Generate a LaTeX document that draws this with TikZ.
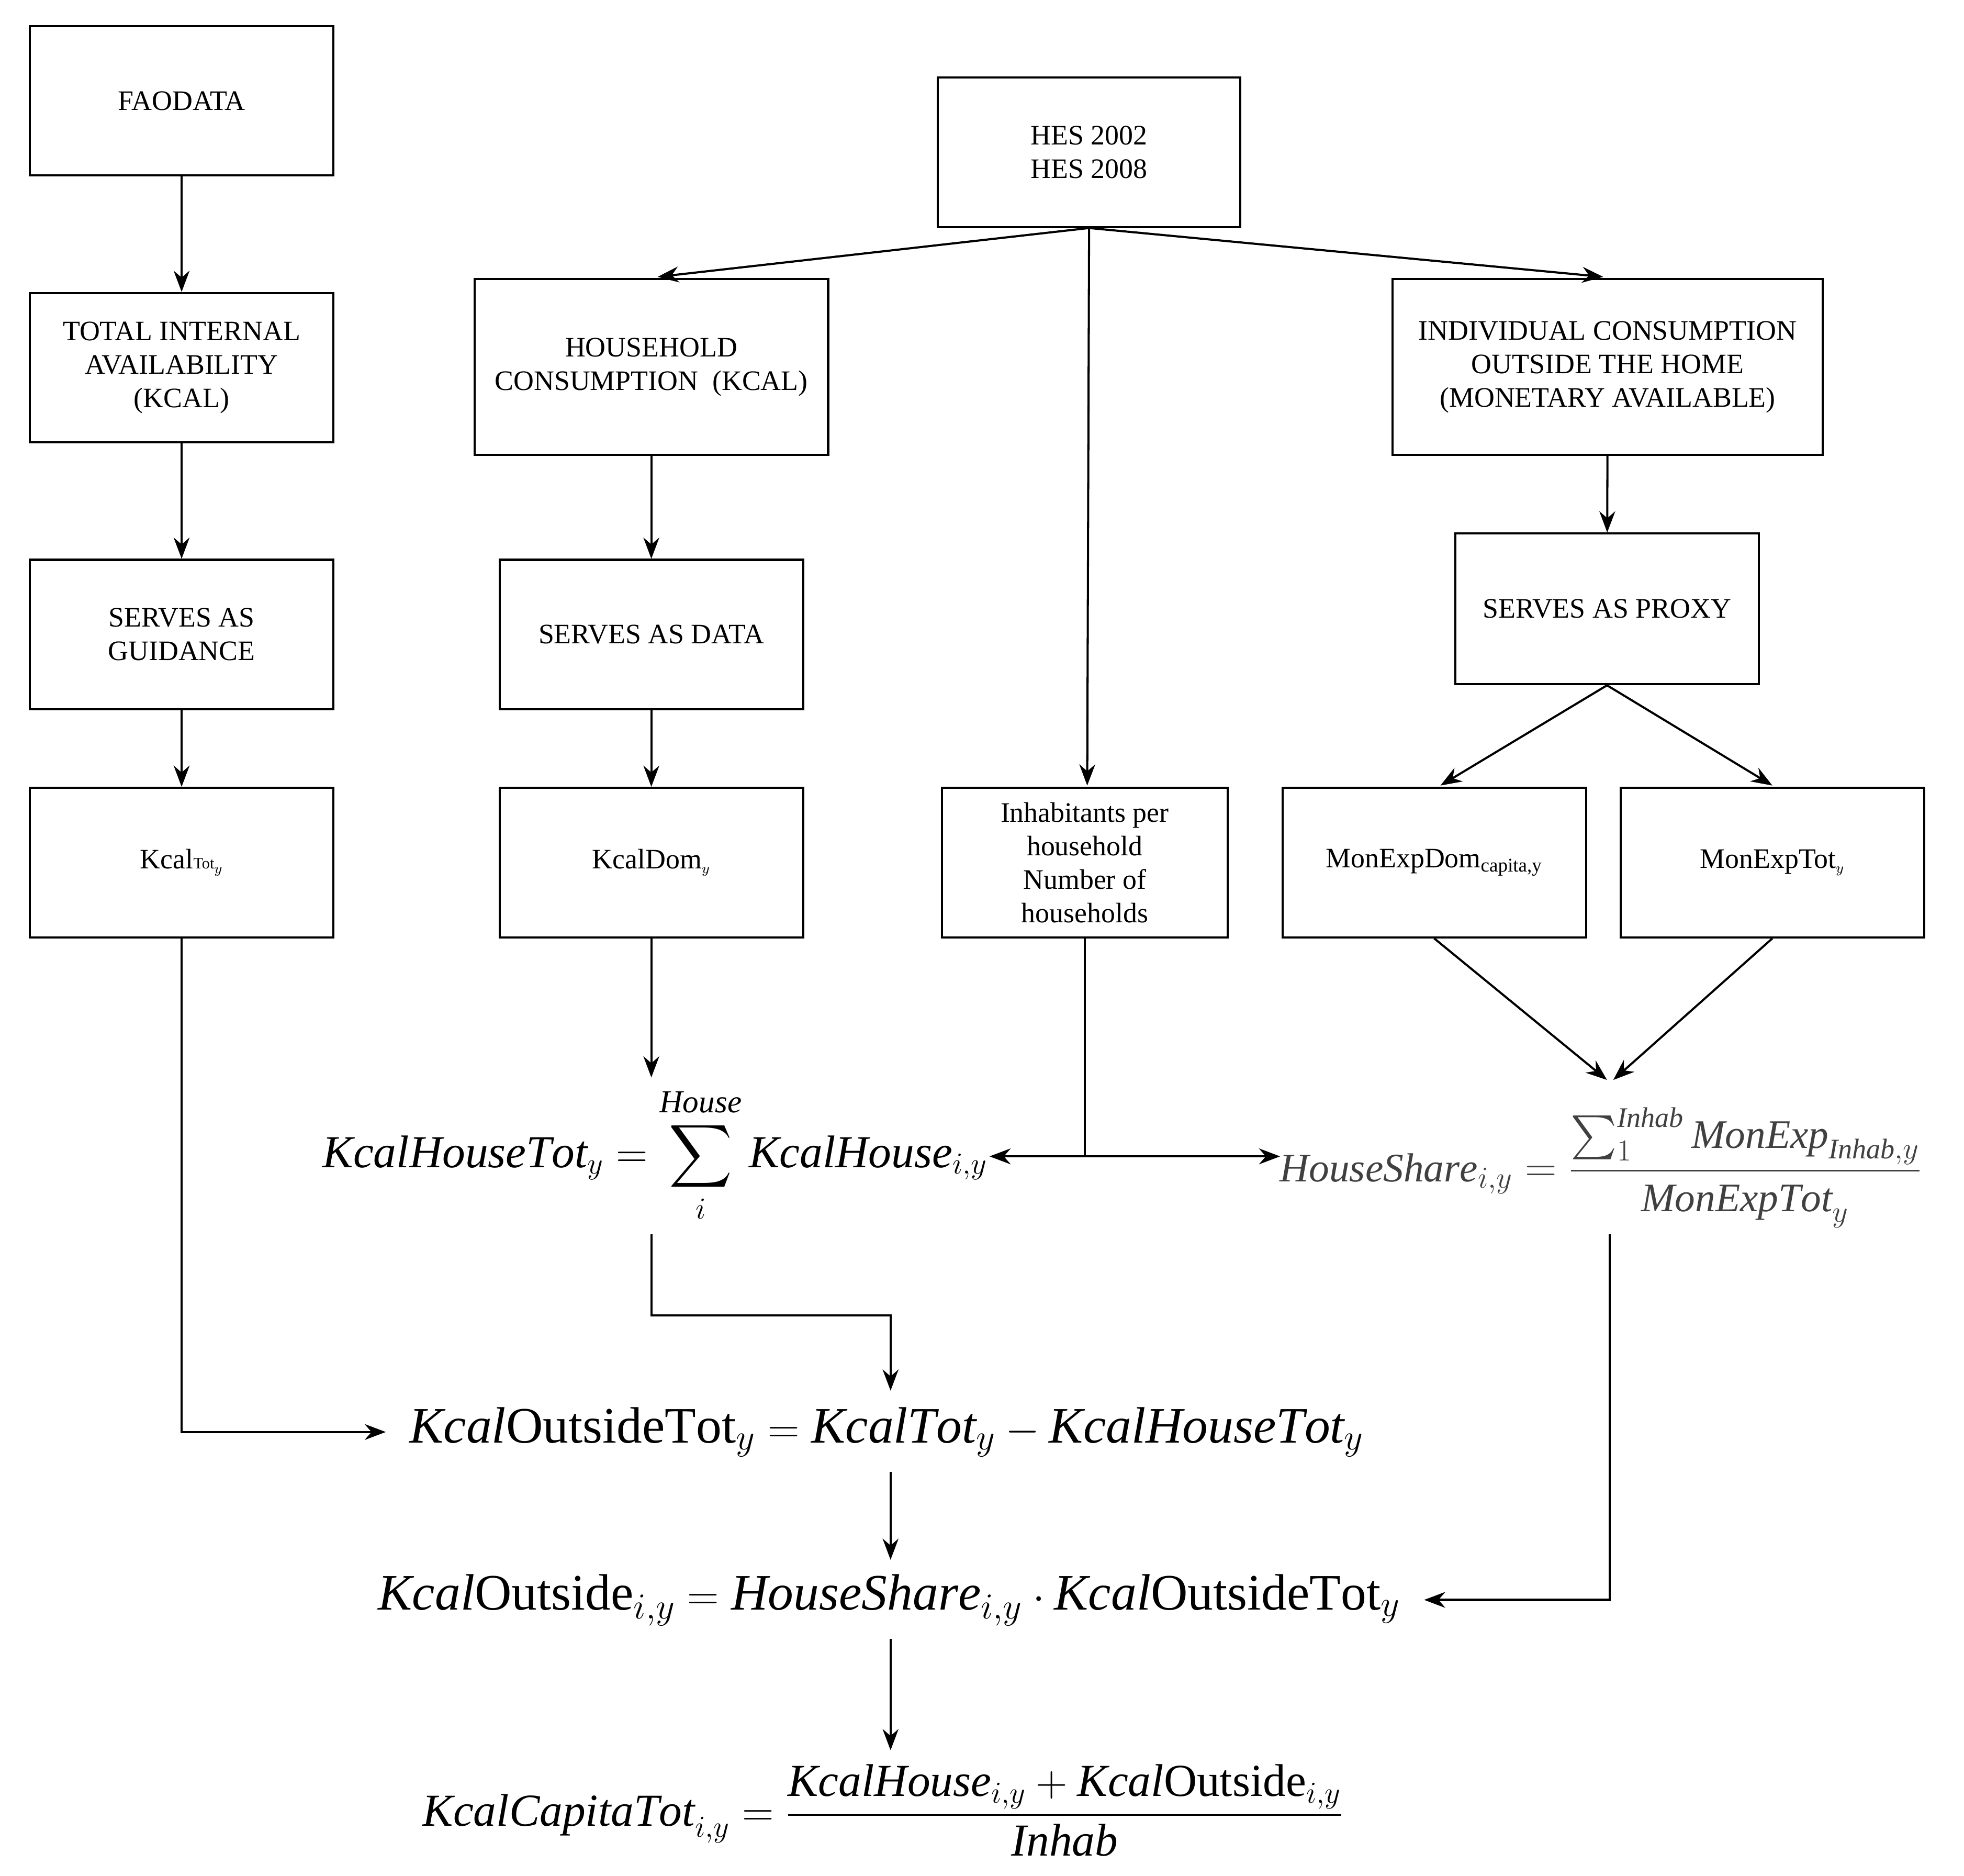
\documentclass[tikz,border=0pt]{standalone}
\usepackage{amsmath}
\usepackage{fontspec}
\setmainfont{Liberation Serif}
\usetikzlibrary{arrows.meta}
\begin{document}
\begin{tikzpicture}[x=0.025cm,y=-0.025cm,
 box/.style={draw,line width=1.2pt,inner sep=0pt,align=center,font=\fontsize{16}{19}\selectfont},
 ar/.style={-{Stealth[length=12pt,width=9pt]},line width=1.2pt},
 ln/.style={line width=1.2pt},
 eq/.style={inner sep=2pt,font=\fontsize{26}{30}\selectfont}]
\useasboundingbox (0,0) rectangle (1568,1497);
\newcommand\bx[6]{\node[box,minimum width=#4*0.025cm-1.2pt,minimum height=#5*0.025cm-1.2pt] (#1) at (#2,#3) {#6};}
\bx{fao}{145}{80.5}{244}{121}{FAODATA}
\bx{hes}{869.5}{121.5}{243}{121}{HES 2002\\HES 2008}
\bx{tia}{145}{293.5}{244}{121}{TOTAL INTERNAL\\AVAILABILITY\\(KCAL)}
\bx{hh}{520}{293}{284}{142}{HOUSEHOLD\\CONSUMPTION\ \ (KCAL)}
\bx{ind}{1283.5}{293}{345}{142}{INDIVIDUAL CONSUMPTION\\OUTSIDE THE HOME\\(MONETARY AVAILABLE)}
\bx{guid}{145}{506.5}{244}{121}{SERVES AS\\GUIDANCE}
\bx{data}{520}{506.5}{244}{121}{SERVES AS DATA}
\bx{prox}{1283}{486}{244}{122}{SERVES AS PROXY}
\bx{ktot}{145}{688.5}{244}{121}{Kcal{\small Tot}$_{\scriptscriptstyle y}$}
\bx{kdom}{520}{688.5}{244}{121}{KcalDom$_{\scriptscriptstyle y}$}
\bx{inh}{866}{688.5}{230}{121}{Inhabitants per\\household\\Number of\\households}
\bx{med}{1145}{688.5}{244}{121}{MonExpDom$_{\text{\fontsize{11}{12}\selectfont capita,y}}$}
\bx{met}{1415}{688.5}{244}{121}{MonExpTot$_{\scriptscriptstyle y}$}
\node[eq] (sum) at (523,922) {$\mathit{KcalHouseTot}_y=\displaystyle\sum_{i}^{\mathit{House}}\mathit{KcalHouse}_{i,y}$};
\node[eq,font=\fontsize{23}{27}\selectfont,text=black!75] (share) at (1278,932) {$\mathit{HouseShare}_{i,y}=\dfrac{\sum_1^{\mathit{Inhab}}\mathit{MonExp}_{\mathit{Inhab},y}}{\mathit{MonExpTot}_y}$};
\node[eq,font=\fontsize{29}{34}\selectfont] (e1) at (708,1143) {$\mathit{Kcal}\mathrm{OutsideTot}_y=\mathit{KcalTot}_y-\mathit{KcalHouseTot}_y$};
\node[eq,font=\fontsize{29}{34}\selectfont] (e2) at (710,1277) {$\mathit{Kcal}\mathrm{Outside}_{i,y}=\mathit{HouseShare}_{i,y}\cdot\mathit{Kcal}\mathrm{OutsideTot}_y$};
\node[eq] (e3) at (705,1445) {$\mathit{KcalCapitaTot}_{i,y}=\dfrac{\mathit{KcalHouse}_{i,y}+\mathit{Kcal}\mathrm{Outside}_{i,y}}{\mathit{Inhab}}$};
\coordinate (j) at (866,923);
\draw[ar] (fao) -- (tia);
\draw[ar] (tia) -- (guid);
\draw[ar] (guid) -- (ktot);
\draw[ar] (hh) -- (data);
\draw[ar] (data) -- (kdom);
\draw[ar] (ind) -- (prox);
\draw[ar] (hes.south) -- (525,221);
\draw[ar] (hes.south) -- (1280,221);
\draw[ar] (hes.south) -- (868,627);
\draw[ar] (prox.south) -- (1150,627);
\draw[ar] (prox.south) -- (1415,627);
\draw[ar] (med.south) -- (1283,862);
\draw[ar] (met.south) -- (1288,862);
\draw[ar] (kdom.south) -- (520,860);
\draw[ln] (inh.south) -- (j);
\draw[ar] (j) -- (790,923);
\draw[ar] (j) -- (1022,923);
\draw[ar] (520,985) -- (520,1050) -- (711,1050) -- (711,1110);
\draw[ar] (ktot.south) -- (145,1143) -- (308,1143);
\draw[ar] (711,1175) -- (711,1245);
\draw[ar] (1285,985) -- (1285,1277) -- (1137,1277);
\draw[ar] (711,1308) -- (711,1397);
\end{tikzpicture}
\end{document}
